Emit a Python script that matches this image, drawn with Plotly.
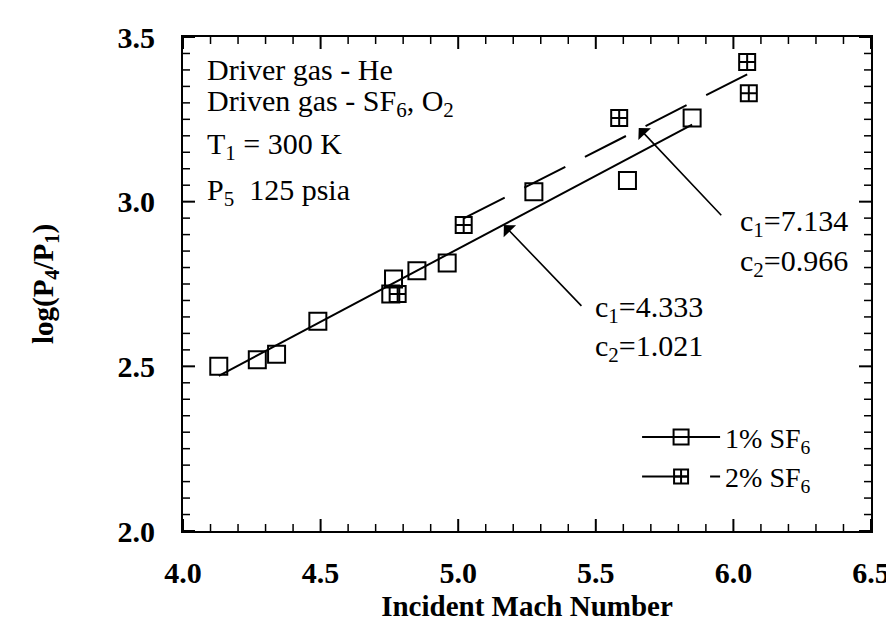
import plotly.graph_objects as go

# ---- data ----
one_pct_mach = [4.13, 4.27, 4.34, 4.49, 4.755, 4.765, 4.85, 4.96, 5.275, 5.615, 5.85]
one_pct_logp = [2.50, 2.52, 2.537, 2.637, 2.72, 2.765, 2.79, 2.814, 3.03, 3.064, 3.254]
two_pct_mach = [4.78, 5.02, 5.585, 6.05, 6.056]
two_pct_logp = [2.72, 2.929, 3.254, 3.424, 3.329]

fit_one_mach = [4.13, 5.85]
fit_one_logp = [2.471, 3.234]
fit_two_mach = [5.02, 6.07]
fit_two_logp = [2.949, 3.395]

X_RANGE = [4.0, 6.5]
Y_RANGE = [2.0, 3.5]

FONT = "Liberation Serif"
DASH = "46px,22px"

fig = go.Figure()

fig.add_trace(go.Scatter(x=fit_one_mach, y=fit_one_logp, mode="lines",
                         line=dict(color="black", width=2), showlegend=False))
fig.add_trace(go.Scatter(x=fit_two_mach, y=fit_two_logp, mode="lines",
                         line=dict(color="black", width=2, dash=DASH), showlegend=False))

fig.add_trace(go.Scatter(x=one_pct_mach, y=one_pct_logp, mode="markers",
                         marker=dict(symbol="square-open", size=17, color="black",
                                     line=dict(width=2, color="black")),
                         showlegend=False))
fig.add_trace(go.Scatter(x=two_pct_mach, y=two_pct_logp, mode="markers",
                         marker=dict(symbol="square-cross-open", size=16, color="black",
                                     line=dict(width=2, color="black")),
                         showlegend=False))

fig.add_trace(go.Scatter(x=[None], y=[None], mode="lines+markers", name="1% SF<sub>6</sub>",
                         line=dict(color="black", width=2),
                         marker=dict(symbol="square-open", size=15, color="black",
                                     line=dict(width=2, color="black"))))
fig.add_trace(go.Scatter(x=[None], y=[None], mode="lines+markers", name="2% SF<sub>6</sub>",
                         line=dict(color="black", width=2, dash=DASH),
                         marker=dict(symbol="square-cross-open", size=14, color="black",
                                     line=dict(width=2, color="black"))))

tickfont = dict(family=FONT, size=30, color="black", weight="bold")
titlefont = dict(family=FONT, size=29, color="black", weight="bold")

fig.update_xaxes(range=X_RANGE, dtick=0.5, tick0=4.0, ticks="",
                 showline=True, linewidth=2, linecolor="black", mirror=True,
                 showgrid=False, zeroline=False, tickformat=".1f", tickfont=tickfont,
                 ticklabelstandoff=14,
                 title=dict(text="Incident Mach Number", standoff=8, font=titlefont))
fig.update_yaxes(range=Y_RANGE, dtick=0.5, tick0=2.0, ticks="",
                 showline=True, linewidth=2, linecolor="black", mirror=True,
                 showgrid=False, zeroline=False, tickformat=".1f", tickfont=tickfont,
                 ticklabelstandoff=20,
                 title=dict(text="log(P<sub>4</sub>/P<sub>1</sub>)", standoff=55, font=titlefont))

# inward tick marks on all four sides (major every 0.5, minor every 0.1 / 0.05)
x_tick_pos = [round(4.0 + 0.1 * i, 2) for i in range(26)]
y_tick_pos = [round(2.0 + 0.05 * i, 3) for i in range(31)]
shapes = []
for xv in x_tick_pos:
    major = abs(xv * 2 - round(xv * 2)) < 1e-6
    ln, wd = (12, 2) if major else (7, 1.5)
    for anchor, sign in ((Y_RANGE[0], 1), (Y_RANGE[1], -1)):
        shapes.append(dict(type="line", xref="x", yref="y", ysizemode="pixel", yanchor=anchor,
                           x0=xv, x1=xv, y0=0, y1=sign * ln,
                           line=dict(color="black", width=wd), layer="above"))
for yv in y_tick_pos:
    major = abs(yv * 2 - round(yv * 2)) < 1e-6
    ln, wd = (12, 2) if major else (7, 1.5)
    for anchor, sign in ((X_RANGE[0], 1), (X_RANGE[1], -1)):
        shapes.append(dict(type="line", xref="x", yref="y", xsizemode="pixel", xanchor=anchor,
                           x0=0, x1=sign * ln, y0=yv, y1=yv,
                           line=dict(color="black", width=wd), layer="above"))

txt = dict(family=FONT, size=30, color="black")
ann = []
info_lines = [
    ("Driver gas - He", 3.40),
    ("Driven gas - SF<sub>6</sub>, O<sub>2</sub>", 3.30),
    ("T<sub>1</sub> = 300 K", 3.17),
    ("P<sub>5</sub>  125 psia", 3.03),
]
for t, yv in info_lines:
    ann.append(dict(x=4.08, y=yv, xref="x", yref="y", text=t, showarrow=False,
                    xanchor="left", yanchor="middle", font=txt))

ann += [
    dict(x=5.49, y=2.675, xref="x", yref="y", text="c<sub>1</sub>=4.333", showarrow=False,
         xanchor="left", yanchor="middle", font=txt),
    dict(x=5.49, y=2.555, xref="x", yref="y", text="c<sub>2</sub>=1.021", showarrow=False,
         xanchor="left", yanchor="middle", font=txt),
    dict(x=6.016, y=2.935, xref="x", yref="y", text="c<sub>1</sub>=7.134", showarrow=False,
         xanchor="left", yanchor="middle", font=txt),
    dict(x=6.016, y=2.815, xref="x", yref="y", text="c<sub>2</sub>=0.966", showarrow=False,
         xanchor="left", yanchor="middle", font=txt),
    dict(x=5.166, y=2.929, ax=5.453, ay=2.679, xref="x", yref="y", axref="x", ayref="y",
         text="", showarrow=True, arrowhead=1, arrowsize=1.8, arrowwidth=1.6, arrowcolor="black"),
    dict(x=5.656, y=3.224, ax=5.961, ay=2.954, xref="x", yref="y", axref="x", ayref="y",
         text="", showarrow=True, arrowhead=1, arrowsize=1.8, arrowwidth=1.6, arrowcolor="black"),
]

fig.update_layout(
    width=894, height=622,
    margin=dict(l=175, r=22, t=23, b=99),
    paper_bgcolor="white", plot_bgcolor="white",
    font=dict(family=FONT, color="black"),
    annotations=ann,
    shapes=shapes,
    showlegend=True,
    legend=dict(x=0.66, y=0.15, xanchor="left", yanchor="middle",
                bgcolor="rgba(0,0,0,0)", itemwidth=78, tracegroupgap=0,
                font=dict(family=FONT, size=28, color="black")),
)

fig.write_html("out.html")
